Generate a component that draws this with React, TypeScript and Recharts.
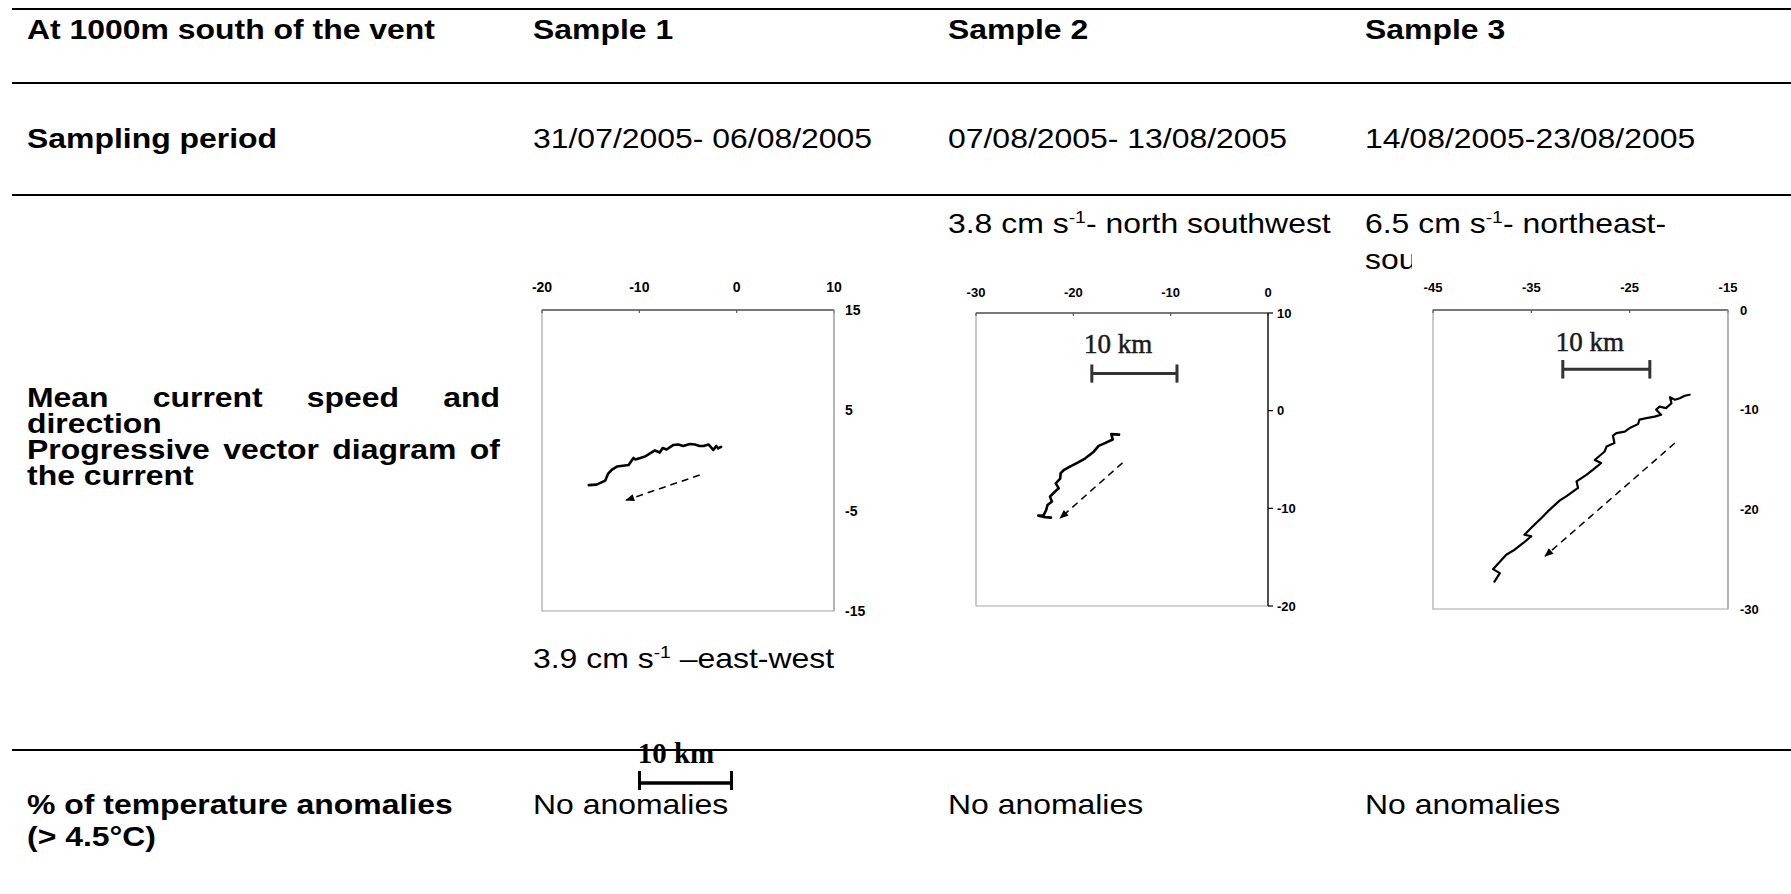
import React from 'react';
import { LineChart, Line, XAxis, YAxis, ReferenceArea, ReferenceLine, ReferenceDot } from 'recharts';

// table text
const rowHeaders = ['At 1000m south of the vent', 'Sampling period'];
const sampleNames = ['Sample 1', 'Sample 2', 'Sample 3'];
const samplingPeriods = ['31/07/2005- 06/08/2005', '07/08/2005- 13/08/2005', '14/08/2005-23/08/2005'];
const meanSpeeds = ['3.9', '3.8', '6.5'];
const anomalies = ['No anomalies', 'No anomalies', 'No anomalies'];

// progressive vector diagrams, [east km, north km]
const track1 = [
  [-1.6, 1.35], [-1.9, 1.2], [-2.1, 1.45], [-2.4, 1.05], [-2.9, 1.6], [-3.4, 1.45], [-3.8, 1.45],
  [-4.3, 1.6], [-4.8, 1.65], [-5.5, 1.45], [-6.0, 1.6], [-6.5, 1.55], [-7.2, 1.1], [-7.6, 1.25],
  [-7.9, 0.8], [-8.4, 1.0], [-8.9, 0.7], [-9.4, 0.4], [-10.4, 0.1], [-10.6, 0.25], [-11.1, -0.45],
  [-12.3, -0.6], [-12.8, -0.9], [-13.2, -1.3], [-13.5, -2.0], [-14.4, -2.4], [-15.2, -2.45],
];
const track2 = [
  [-15.3, -2.45], [-16.1, -2.4], [-15.95, -2.95], [-16.7, -3.3], [-17.4, -3.6], [-17.9, -4.2],
  [-18.8, -4.9], [-19.6, -5.35], [-20.4, -5.75], [-21.0, -6.1], [-21.3, -6.4], [-21.35, -6.95],
  [-21.8, -7.45], [-21.5, -7.95], [-21.9, -8.3], [-22.4, -8.8], [-22.2, -9.3], [-22.65, -9.65],
  [-22.8, -10.2], [-23.05, -10.7], [-23.6, -10.75], [-22.9, -10.9], [-22.3, -10.95],
];
const track3 = [
  [-18.9, -8.5], [-19.4, -8.6], [-19.9, -8.85], [-20.4, -9.0], [-20.9, -8.75], [-20.75, -9.35],
  [-21.3, -9.85], [-21.95, -9.7], [-22.3, -10.0], [-21.8, -10.5], [-22.45, -10.7], [-23.3, -10.85],
  [-24.0, -11.0], [-24.15, -11.45], [-25.0, -11.85], [-25.5, -12.2], [-26.35, -12.35], [-26.7, -12.6],
  [-26.55, -13.35], [-27.35, -13.7], [-27.55, -14.2], [-28.55, -15.05], [-27.9, -15.35], [-28.75, -16.05],
  [-29.4, -16.55], [-30.4, -17.2], [-30.25, -17.85], [-31.45, -18.7], [-32.1, -19.1], [-33.15, -20.05],
  [-34.0, -20.9], [-34.85, -21.7], [-35.7, -22.55], [-35.0, -22.7], [-35.85, -23.4], [-36.7, -24.05],
  [-37.55, -24.55], [-38.2, -25.25], [-38.9, -26.0], [-38.2, -26.4], [-38.75, -27.25],
];

// mean direction arrows, [start, end]
const arrow1 = [[-3.8, -1.45], [-11.35, -3.95]];
const arrow2 = [[-14.95, -5.35], [-21.35, -11.0]];
const arrow3 = [[-20.4, -13.35], [-33.6, -24.7]];

// 10 km scale bars: [x start, x end, y], label centre [x, y]
const scaleBar2 = [-18.1, -9.35, 3.8];
const scaleLabel2 = [-15.4, 6.8];
const scaleBar3 = [-31.8, -22.95, -5.95];
const scaleLabel3 = [-29.05, -3.2];

// axes
const xTicks1 = [-20, -10, 0, 10];
const yTicks1 = [15, 5, -5, -15];
const xTicks2 = [-30, -20, -10, 0];
const yTicks2 = [10, 0, -10, -20];
const xTicks3 = [-45, -35, -25, -15];
const yTicks3 = [0, -10, -20, -30];

const toPts = (arr: number[][]) => arr.map(([x, y]) => ({ x, y }));

const SANS = '"Liberation Sans", Arial, sans-serif';
const SERIF = '"Liberation Serif", "Times New Roman", serif';
const STRETCH = 1.14;

function makeArrowDot() {
  let prev: { x: number; y: number } | null = null;
  return (props: any) => {
    const { cx, cy, index, points } = props;
    if (index === 0) {
      prev = { x: cx, y: cy };
      return <g key={`ad${index}`} />;
    }
    const p = points && points[index - 1] ? points[index - 1] : prev;
    const ang = p ? (Math.atan2(cy - p.y, cx - p.x) * 180) / Math.PI : 0;
    return (
      <polygon
        key={`ad${index}`}
        points="1,0 -8,-3.6 -8,3.6"
        transform={`translate(${cx},${cy}) rotate(${ang})`}
        fill="#000"
      />
    );
  };
}

type PvdProps = {
  left: number; top: number; width: number; height: number;
  margin: { top: number; right: number; bottom: number; left: number };
  xDomain: number[]; yDomain: number[]; xTicks: number[]; yTicks: number[];
  track: number[][]; arrow: number[][];
  fontSize: number; topMargin: number; yTickLine: boolean; yStroke: string; yGap: number;
  bar?: number[]; barLabel?: number[]; trackWidth: number;
};

function Pvd(p: PvdProps) {
  const tick = { fill: '#000', fontSize: p.fontSize, fontWeight: 700, fontFamily: SANS };
  const barTick = p.bar ? (p.yDomain[1] - p.yDomain[0]) * 0.031 : 0;
  return (
    <div style={{ position: 'absolute', left: p.left, top: p.top, background: '#fff' }}>
      <LineChart width={p.width} height={p.height} margin={p.margin}>
        <XAxis
          xAxisId={0}
          type="number"
          dataKey="x"
          orientation="top"
          domain={p.xDomain}
          ticks={p.xTicks}
          interval={0}
          height={30}
          tick={tick}
          tickSize={-3}
          tickMargin={p.topMargin}
          axisLine={{ stroke: '#5a5a5a', strokeWidth: 1.6 }}
          tickLine={{ stroke: '#5a5a5a', strokeWidth: 1.2 }}
        />
        <YAxis
          yAxisId={0}
          type="number"
          orientation="right"
          domain={p.yDomain}
          ticks={p.yTicks}
          interval={0}
          width={40}
          tick={tick}
          tickSize={p.yTickLine ? 5 : 4}
          tickMargin={p.yGap}
          axisLine={{ stroke: p.yStroke, strokeWidth: 1.2 }}
          tickLine={p.yTickLine ? { stroke: p.yStroke, strokeWidth: 1.2 } : false}
        />
        <ReferenceArea
          x1={p.xDomain[0]}
          x2={p.xDomain[1]}
          y1={p.yDomain[0]}
          y2={p.yDomain[1]}
          fill="none"
          stroke="#a6a6a6"
          strokeWidth={1.2}
          ifOverflow="visible"
        />
        {p.bar && (
          <ReferenceLine
            segment={[{ x: p.bar[0], y: p.bar[2] }, { x: p.bar[1], y: p.bar[2] }]}
            stroke="#333"
            strokeWidth={3}
          />
        )}
        {p.bar && (
          <ReferenceLine
            segment={[{ x: p.bar[0], y: p.bar[2] - barTick }, { x: p.bar[0], y: p.bar[2] + barTick }]}
            stroke="#333"
            strokeWidth={3}
          />
        )}
        {p.bar && (
          <ReferenceLine
            segment={[{ x: p.bar[1], y: p.bar[2] - barTick }, { x: p.bar[1], y: p.bar[2] + barTick }]}
            stroke="#333"
            strokeWidth={3}
          />
        )}
        {p.barLabel && (
          <ReferenceDot
            x={p.barLabel[0]}
            y={p.barLabel[1]}
            shape={(s: any) => (
              <text
                x={s.cx}
                y={s.cy}
                textAnchor="middle"
                dominantBaseline="central"
                fontFamily={SERIF}
                fontSize={27}
                fill="#1a1a1a"
                stroke="#1a1a1a"
                strokeWidth={0.5}
              >
                10 km
              </text>
            )}
          />
        )}
        <Line
          data={toPts(p.track)}
          dataKey="y"
          stroke="#000"
          strokeWidth={p.trackWidth}
          strokeLinejoin="round"
          strokeLinecap="round"
          dot={false}
          activeDot={false}
          isAnimationActive={false}
        />
        <Line
          data={toPts(p.arrow)}
          dataKey="y"
          stroke="#000"
          strokeWidth={1.5}
          strokeDasharray="7 5"
          dot={makeArrowDot()}
          activeDot={false}
          isAnimationActive={false}
        />
      </LineChart>
    </div>
  );
}

// the table text of the original is slightly stretched sideways
const textBase: React.CSSProperties = {
  position: 'absolute',
  fontFamily: SANS,
  fontSize: 28,
  lineHeight: '36px',
  color: '#000',
  whiteSpace: 'nowrap',
  transform: `scaleX(${STRETCH})`,
  transformOrigin: 'left center',
};

const T = ({ x, cy, bold, children }: { x: number; cy: number; bold?: boolean; children: React.ReactNode }) => (
  <div style={{ ...textBase, left: x, top: cy - 18, fontWeight: bold ? 700 : 400 }}>{children}</div>
);

const Sup = ({ children }: { children: React.ReactNode }) => (
  <span style={{ fontSize: 17, position: 'relative', top: -10 }}>{children}</span>
);

const Rule = ({ y, h = 2 }: { y: number; h?: number }) => (
  <div style={{ position: 'absolute', left: 12, top: y, width: 1779, height: h, background: '#000' }} />
);

const colX = [533, 948, 1365];

export default function App() {
  return (
    <div style={{ position: 'absolute', left: 0, top: 0, width: 1791, height: 894, background: '#fff', overflow: 'hidden' }}>
      <Rule y={8} />
      <Rule y={82} />
      <Rule y={194} />
      <Rule y={749} h={2} />

      <T x={27} cy={30} bold>{rowHeaders[0]}</T>
      {sampleNames.map((s, i) => (
        <T key={s} x={colX[i]} cy={30} bold>{s}</T>
      ))}
      <T x={27} cy={139} bold>{rowHeaders[1]}</T>
      {samplingPeriods.map((s, i) => (
        <T key={s} x={colX[i]} cy={139}>{s}</T>
      ))}

      <div
        style={{
          ...textBase,
          whiteSpace: 'normal',
          left: 27,
          top: 385,
          width: 473 / STRETCH,
          fontWeight: 700,
          textAlign: 'justify',
          lineHeight: '26px',
        }}
      >
        <div>Mean current speed and direction</div>
        <div>Progressive vector diagram of the current</div>
      </div>

      <T x={colX[1]} cy={224}>{meanSpeeds[1]} cm s<Sup>-1</Sup>- north southwest</T>
      <T x={colX[2]} cy={224}>{meanSpeeds[2]} cm s<Sup>-1</Sup>- northeast-</T>
      <div style={{ position: 'absolute', left: colX[2], top: 242, width: 47, height: 36, overflow: 'hidden' }}>
        <div style={{ ...textBase, position: 'static' }}>southwest</div>
      </div>

      <Pvd
        left={520} top={260} width={380} height={372}
        margin={{ top: 20, right: 26, bottom: 21, left: 22 }}
        xDomain={[-20, 10]} yDomain={[-15, 15]} xTicks={xTicks1} yTicks={yTicks1}
        track={track1} arrow={arrow1}
        fontSize={14} topMargin={21} yTickLine={false} yStroke="#a6a6a6" yGap={7} trackWidth={2.6}
      />
      <Pvd
        left={930} top={262} width={380} height={370}
        margin={{ top: 21, right: 2, bottom: 26, left: 46 }}
        xDomain={[-30, 0]} yDomain={[-20, 10]} xTicks={xTicks2} yTicks={yTicks2}
        track={track2} arrow={arrow2} bar={scaleBar2} barLabel={scaleLabel2}
        fontSize={13} topMargin={19.5} yTickLine={true} yStroke="#000" yGap={4} trackWidth={2.6}
      />
      <Pvd
        left={1412} top={262} width={379} height={370}
        margin={{ top: 18, right: 23, bottom: 23, left: 21 }}
        xDomain={[-45, -15]} yDomain={[-30, 0]} xTicks={xTicks3} yTicks={yTicks3}
        track={track3} arrow={arrow3} bar={scaleBar3} barLabel={scaleLabel3}
        fontSize={13} topMargin={21.5} yTickLine={false} yStroke="#a6a6a6" yGap={8} trackWidth={2.2}
      />

      <T x={colX[0]} cy={659}>{meanSpeeds[0]} cm s<Sup>-1</Sup> –east-west</T>

      <div style={{ ...textBase, left: 27, top: 789, fontWeight: 700, lineHeight: '32px' }}>
        % of temperature anomalies
        <br />
        (&gt; 4.5°C)
      </div>
      {anomalies.map((s, i) => (
        <T key={i} x={colX[i]} cy={805}>{s}</T>
      ))}

      <svg style={{ position: 'absolute', left: 630, top: 738 }} width={110} height={60}>
        <text x={46} y={25} textAnchor="middle" fontFamily={SERIF} fontWeight={700} fontSize={29} fill="#000">
          10 km
        </text>
        <line x1={9.5} x2={101.5} y1={45} y2={45} stroke="#000" strokeWidth={3.5} />
        <line x1={9.5} x2={9.5} y1={33} y2={52} stroke="#000" strokeWidth={3} />
        <line x1={101.5} x2={101.5} y1={33} y2={52} stroke="#000" strokeWidth={3} />
      </svg>
    </div>
  );
}
